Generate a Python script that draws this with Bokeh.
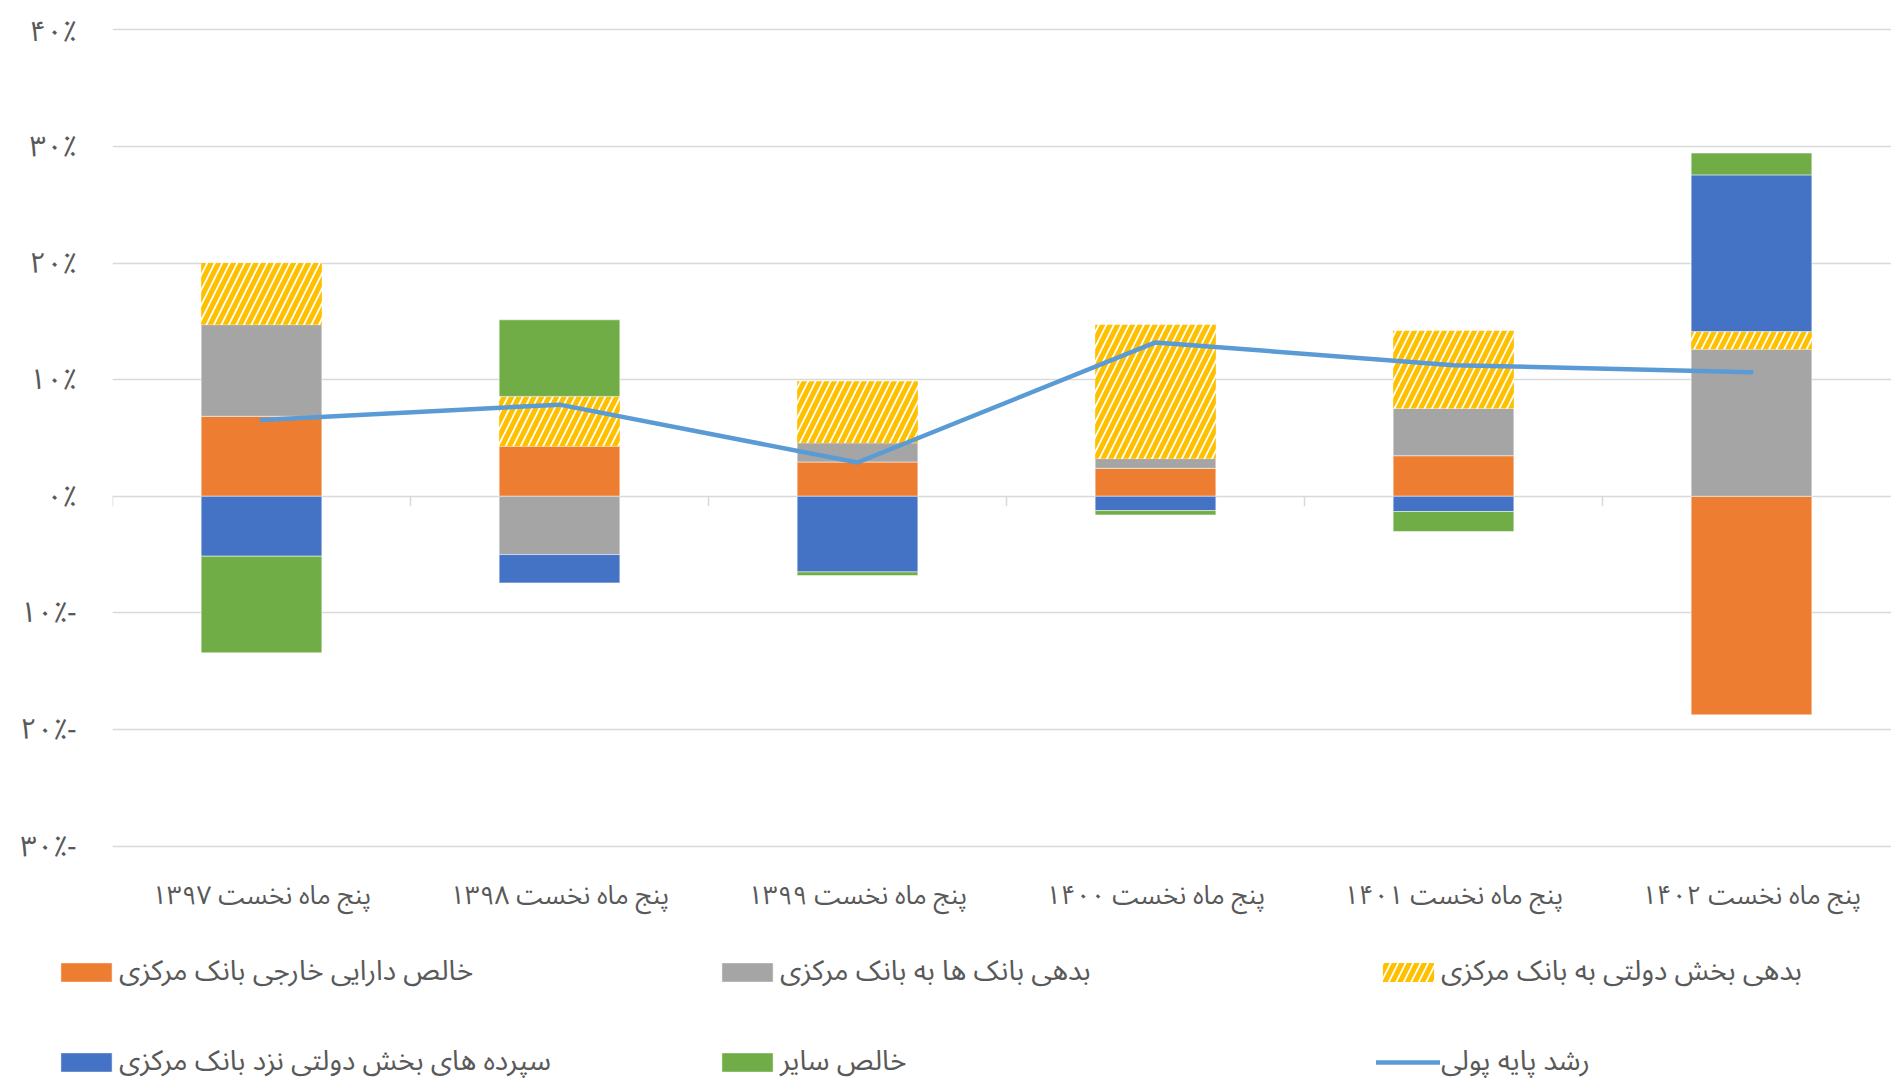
from bokeh.plotting import figure
from bokeh.layouts import column
from bokeh.models import Range1d, FixedTicker, Legend, LegendItem
from bokeh.embed import file_html
from bokeh.resources import INLINE

# ---------------- data ----------------
categories = [
    "پنج ماه نخست ۱۳۹۷",
    "پنج ماه نخست ۱۳۹۸",
    "پنج ماه نخست ۱۳۹۹",
    "پنج ماه نخست ۱۴۰۰",
    "پنج ماه نخست ۱۴۰۱",
    "پنج ماه نخست ۱۴۰۲",
]
series_names = [
    "خالص دارایی خارجی بانک مرکزی",
    "بدهی بانک ها به بانک مرکزی",
    "بدهی بخش دولتی به بانک مرکزی",
    "سپرده های بخش دولتی نزد بانک مرکزی",
    "خالص سایر",
]
line_name = "رشد پایه پولی"

foreign_assets = [6.86, 4.29, 2.94, 2.40, 3.48, -18.75]
bank_debt = [7.86, -5.00, 1.63, 0.83, 4.06, 12.62]
gov_debt = [5.30, 4.28, 5.29, 11.48, 6.66, 1.51]
gov_deposits = [-5.14, -2.43, -6.49, -1.23, -1.31, 13.44]
other_net = [-8.29, 6.57, -0.31, -0.37, -1.71, 1.87]
base_money_growth = [6.54, 7.86, 2.90, 13.20, 11.25, 10.65]

y_ticks = [-30, -20, -10, 0, 10, 20, 30, 40]
y_tick_labels = ["۳۰٪−", "۲۰٪−", "۱۰٪−", "۰٪", "۱۰٪", "۲۰٪", "۳۰٪", "۴۰٪"]

# ---------------- style ----------------
FONT = "'Noto Sans Arabic', 'DejaVu Sans', sans-serif"
TEXT_COLOR = "#595959"
GRID_COLOR = "#D9D9D9"
colors = ["#ED7D31", "#A5A5A5", "#FFC000", "#4472C4", "#70AD47"]
LINE_COLOR = "#5B9BD5"

W = 1891
H_MAIN, H_LEG = 930, 151
LEFT, TOP = 112, 26
PX_PER_UNIT = 816 / 70.0
Y0, Y1 = -30.3, 40.3
FRAME_H = int(round((Y1 - Y0) * PX_PER_UNIT))
BOTTOM = H_MAIN - TOP - FRAME_H
CAT_PX = 298.0
x_end = (W - LEFT) / CAT_PX

p = figure(width=W, height=H_MAIN, output_backend="svg", toolbar_location=None,
           x_range=Range1d(0, x_end), y_range=Range1d(Y0, Y1),
           min_border_left=LEFT, min_border_right=0,
           min_border_top=TOP, min_border_bottom=BOTTOM)
p.frame_align = False
p.outline_line_color = None
p.background_fill_color = "white"
p.border_fill_color = "white"

centers = [i + 0.5 for i in range(len(categories))]

bar_styles = []
for k in range(5):
    if k == 2:
        bar_styles.append(dict(fill_color="white", hatch_pattern="/", hatch_color=colors[k],
                               hatch_scale=15, hatch_weight=5, line_color=None))
    else:
        bar_styles.append(dict(fill_color=colors[k], line_color="white", line_width=1,
                               line_alpha=0.5))
line_style = dict(line_color=LINE_COLOR, line_width=4.5, line_cap="round", line_join="round")

# stacking (positives and negatives stacked separately)
all_series = [foreign_assets, bank_debt, gov_debt, gov_deposits, other_net]
pos = [0.0] * len(categories)
neg = [0.0] * len(categories)
stacks = []
for k, vals in enumerate(all_series):
    bottoms, tops = [], []
    for i, v in enumerate(vals):
        if v >= 0:
            bottoms.append(pos[i]); tops.append(pos[i] + v); pos[i] += v
        else:
            bottoms.append(neg[i]); tops.append(neg[i] + v); neg[i] += v
    stacks.append((bottoms, tops))
    p.vbar(x=centers, width=0.405, bottom=bottoms, top=tops, **bar_styles[k])

# category boundary ticks on the zero line
bounds = list(range(len(categories) + 1))
p.segment(x0=bounds, y0=[0] * len(bounds), x1=bounds, y1=[-0.85] * len(bounds),
          line_color=GRID_COLOR, line_width=1.5)

p.line(centers, base_money_growth, **line_style)

# axes
p.yaxis.ticker = FixedTicker(ticks=y_ticks)
p.yaxis.major_label_overrides = dict(zip(y_ticks, y_tick_labels))
p.yaxis.axis_line_color = None
p.yaxis.major_tick_line_color = None
p.yaxis.minor_tick_line_color = None
p.yaxis.major_label_standoff = 30
p.yaxis.major_label_text_font = FONT
p.yaxis.major_label_text_font_size = "29px"
p.yaxis.major_label_text_color = TEXT_COLOR

p.xaxis.ticker = FixedTicker(ticks=centers)
p.xaxis.major_label_overrides = dict(zip(centers, categories))
p.xaxis.axis_line_color = None
p.xaxis.major_tick_line_color = None
p.xaxis.minor_tick_line_color = None
p.xaxis.major_label_standoff = 12
p.xaxis.major_label_text_font = FONT
p.xaxis.major_label_text_font_size = "26px"
p.xaxis.major_label_text_color = TEXT_COLOR

p.xgrid.grid_line_color = None
p.ygrid.ticker = FixedTicker(ticks=y_ticks)
p.ygrid.grid_line_color = GRID_COLOR
p.ygrid.grid_line_width = 1.5

# ---------------- legend figure (hidden proxy renderers carry the legend) ----------------
lf = figure(width=W, height=H_LEG, output_backend="svg", toolbar_location=None,
            x_range=Range1d(0, x_end), y_range=Range1d(Y0, Y1),
            min_border=0, x_axis_location=None, y_axis_location=None)
lf.frame_align = False
lf.outline_line_color = None
lf.grid.visible = False
lf.background_fill_color = "white"
lf.border_fill_color = "white"

leg_renderers = []
for k in range(5):
    b, t = stacks[k]
    leg_renderers.append(lf.vbar(x=centers, width=0.405, bottom=b, top=t,
                                 visible=False, **bar_styles[k]))
leg_renderers.append(lf.line(centers, base_money_growth, visible=False, **line_style))

items = [LegendItem(label=n, renderers=[r])
         for n, r in zip(series_names + [line_name], leg_renderers)]
legend = Legend(items=items, location=(54, -10), orientation="horizontal", ncols=3,
                glyph_width=64, glyph_height=24, label_standoff=1,
                label_width=565, label_height=20, spacing=31,
                padding=0, margin=0,
                background_fill_alpha=0, border_line_alpha=0,
                inactive_fill_alpha=0,
                label_text_font=FONT, label_text_font_size="28px",
                label_text_color=TEXT_COLOR)
lf.add_layout(legend, "center")

layout = column(p, lf, spacing=0)
open("out.html", "w").write(file_html(layout, INLINE))
